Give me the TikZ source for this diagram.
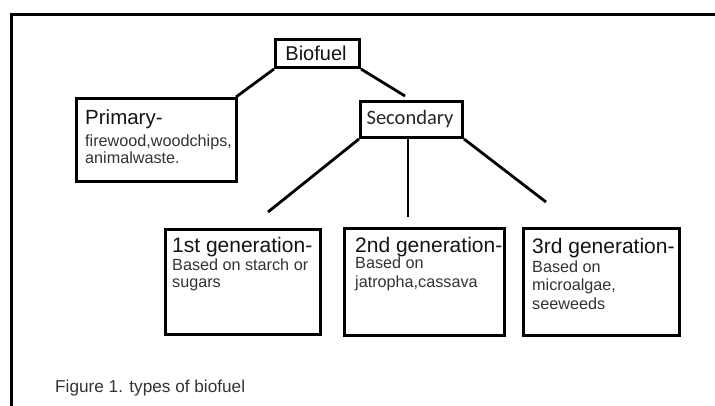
\documentclass[tikz,border=0pt]{standalone}
\usepackage{fontspec}
\setmainfont{Liberation Sans}
\newfontfamily\calfont{Carlito}
\begin{document}
\begin{tikzpicture}[x=1pt,y=-1pt,
  box/.style={draw=black,line width=3pt,fill=white,inner sep=0pt},
  conn/.style={draw=black,line width=2.8pt},
  head/.style={anchor=base west,inner sep=0pt,text=black!92,font=\fontsize{21}{24}\selectfont},
  body/.style={anchor=base west,inner sep=0pt,text=black!80,font=\fontsize{16.2}{18}\selectfont}]
\useasboundingbox (0,0) rectangle (715,405);
\fill[white] (0,0) rectangle (715,405);
% frame
\coordinate (ftr) at (716,14);
\coordinate (ftl) at (11,14);
\coordinate (fbl) at (11,406);
\draw[conn,line width=3pt] (ftr) -- (ftl) -- (fbl);
% boxes
\node[box,minimum width=84pt,minimum height=28pt] (bio) at (317.5,53.5) {};
\node[box,minimum width=160pt,minimum height=83pt] (pri) at (156.5,140) {};
\node[box,minimum width=102pt,minimum height=36pt] (sec) at (411.5,119.5) {};
\node[box,minimum width=155pt,minimum height=105pt] (g1) at (243,282) {};
\node[box,minimum width=160pt,minimum height=107pt] (g2) at (424.5,282) {};
\node[box,minimum width=156pt,minimum height=107pt] (g3) at (601.5,282) {};
% connector free ends
\coordinate (e1) at (405,96);
\coordinate (e2) at (268,212);
\coordinate (e3) at (408,217);
\coordinate (e4) at (546,202);
\draw[conn] (bio.south west) -- ([xshift=-2pt]pri.north east);
\draw[conn] (bio.south east) -- (e1);
\draw[conn] (sec.south west) -- (e2);
\draw[conn] ([xshift=-3.5pt]sec.south) -- (e3);
\draw[conn] (sec.south east) -- (e4);
% texts
\node[inner sep=0pt,text=black!92,font=\fontsize{20}{24}\selectfont] (tbio) at (316,53.5) {Biofuel};
\node[inner sep=0pt,text=black!85,font=\calfont\fontsize{20.5}{24}\selectfont] (tsec) at (410,119.5) {Secondary};
\node[head,font=\fontsize{20.5}{24}\selectfont] (tp0) at (85,124) {Primary-};
\node[body] (tp1) at (85,146) {firewood,woodchips,};
\node[body] (tp2) at (85,163) {animalwaste.};
\node[head] (t10) at (172,252) {1st generation-};
\node[body] (t11) at (172,270) {Based on starch or};
\node[body] (t12) at (172,287) {sugars};
\node[head] (t20) at (355,252) {2nd generation-};
\node[body] (t21) at (355,268) {Based on};
\node[body] (t22) at (355,287) {jatropha,cassava};
\node[head] (t30) at (532,253) {3rd generation-};
\node[body] (t31) at (532,272) {Based on};
\node[body] (t32) at (532,290) {microalgae,};
\node[body] (t33) at (532,309) {seeweeds};
\node[anchor=base west,inner sep=0pt,text=black!80,font=\fontsize{17.2}{20}\selectfont] (cap) at (55,392) {Figure 1. types of biofuel};
\end{tikzpicture}
\end{document}
